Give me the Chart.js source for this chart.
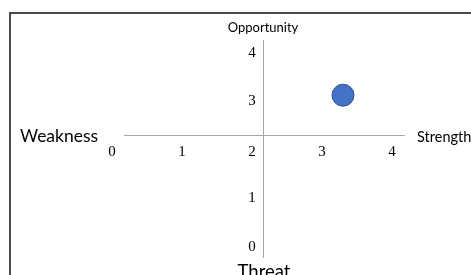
<!DOCTYPE html>
<html>
<head>
<meta charset="utf-8">
<script src="https://cdn.jsdelivr.net/npm/chart.js@4.4.1/dist/chart.umd.min.js"></script>
<style>
  html, body { margin: 0; padding: 0; background: #fff; overflow: hidden; }
  #wrap { position: relative; width: 471px; height: 275px; overflow: hidden; }
  #frame { position: absolute; left: 9px; top: 12px; width: 700px; height: 500px;
           border-left: 2px solid #4a4a4a; border-top: 2px solid #4a4a4a; box-sizing: border-box; }
  canvas { position: absolute; left: 0; top: 0; }
</style>
</head>
<body>
<div id="wrap">
  <div id="frame"></div>
  <canvas id="c" width="471" height="275"></canvas>
</div>
<script>
// ---- data ----
const xTicks = [0, 1, 2, 3, 4];
const yTicks = [0, 1, 2, 3, 4];
const pointX = [3.3];
const pointY = [3.13];
const axisTitles = ["Strength", "Weakness", "Opportunity", "Threat"];

const Y_MIN = -0.206, Y_MAX = 4.268;
const X_MIN = 0.171, X_MAX = 4.171;
const CROSS_X = 2.157, CROSS_Y = 2.309;

const quadLabels = {
  id: 'quadLabels',
  afterDraw(chart) {
    const ctx = chart.ctx;
    const a = chart.chartArea;
    const xs = chart.scales.x, ys = chart.scales.y;
    const cx = xs.getPixelForValue(CROSS_X);
    const cy = ys.getPixelForValue(CROSS_Y);
    ctx.save();
    ctx.fillStyle = '#000';
    ctx.textBaseline = 'middle';
    ctx.font = '13px Lato';
    ctx.textAlign = 'center';
    ctx.fillText(axisTitles[2], cx, a.top - 12);
    ctx.font = '14.5px Lato';
    ctx.textAlign = 'left';
    ctx.fillText(axisTitles[0], a.right + 13, cy + 2);
    ctx.font = '17.5px Lato';
    ctx.fillText(axisTitles[1], 20, cy + 1);
    ctx.font = '18.5px Lato';
    ctx.textAlign = 'center';
    ctx.fillText(axisTitles[3], cx + 1, a.bottom + 15);
    ctx.restore();
  }
};

const lineStyle = { color: '#a6a6a6', width: 1 };
const tickFont = { family: 'Liberation Serif', size: 15 };

new Chart(document.getElementById('c'), {
  type: 'scatter',
  data: {
    datasets: [{
      data: pointX.map((x, i) => ({ x: x, y: pointY[i] })),
      backgroundColor: '#4472C4',
      borderColor: '#2F528F',
      borderWidth: 1,
      pointRadius: 11,
      pointHoverRadius: 11
    }]
  },
  options: {
    responsive: false,
    animation: false,
    layout: { padding: { left: 124, right: 67, top: 40, bottom: 18 } },
    plugins: { legend: { display: false }, tooltip: { enabled: false } },
    scales: {
      x: {
        type: 'linear',
        min: X_MIN, max: X_MAX,
        position: { y: CROSS_Y },
        afterBuildTicks: s => { s.ticks = xTicks.map(v => ({ value: v })); },
        grid: { drawOnChartArea: false, drawTicks: false },
        border: lineStyle,
        ticks: { padding: 8, color: '#000', font: tickFont, autoSkip: false, maxRotation: 0 }
      },
      y: {
        type: 'linear',
        min: Y_MIN, max: Y_MAX,
        position: { x: CROSS_X - 0.104 },
        afterBuildTicks: s => { s.ticks = yTicks.map(v => ({ value: v })); },
        grid: { display: false, drawOnChartArea: false, drawTicks: false },
        border: { display: false },
        ticks: { color: '#000', font: tickFont, autoSkip: false,
                 callback: v => (v === 2 ? '' : String(v)) }
      },
      yLine: {
        type: 'linear',
        axis: 'y',
        min: Y_MIN, max: Y_MAX,
        position: { x: CROSS_X },
        grid: { drawOnChartArea: false, drawTicks: false },
        border: lineStyle,
        ticks: { display: false }
      }
    }
  },
  plugins: [quadLabels]
});
</script>
</body>
</html>
